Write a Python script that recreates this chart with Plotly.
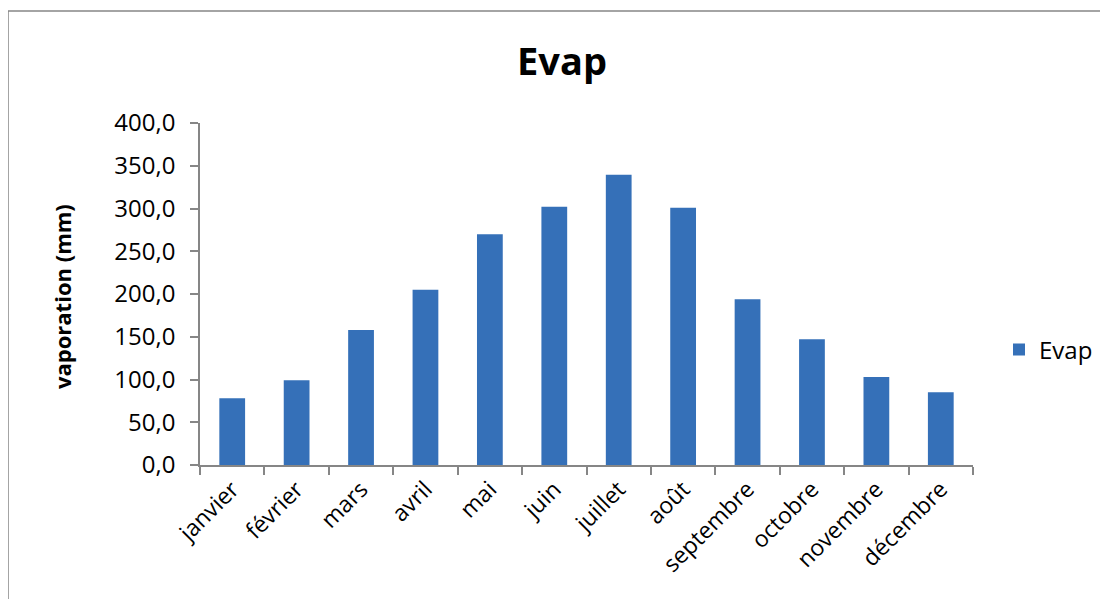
import plotly.graph_objects as go

months = ["janvier", "février", "mars", "avril", "mai", "juin", "juillet",
          "août", "septembre", "octobre", "novembre", "décembre"]
evap = [78.0, 99.0, 158.0, 205.0, 270.0, 302.0, 339.5, 301.0, 194.0, 147.0, 103.0, 85.0]
y_ticks = [0, 50, 100, 150, 200, 250, 300, 350, 400]
y_tick_labels = ["0,0", "50,0", "100,0", "150,0", "200,0", "250,0", "300,0", "350,0", "400,0"]

# page body has an 8px margin: work in reference pixel coords, shift by OFF
OFF = 8
W, H = 1108 - OFF, 599 - OFF
L, T = 200 - OFF, 123 - OFF
pw, ph = 773, 342
R = W - L - pw
B = H - T - ph

FONT = "Open Sans"
AXIS_COL = "#868686"


def px(xr):
    return (xr - 200) / pw


def py(yr):
    return (465 - yr) / ph


fig = go.Figure()
fig.add_trace(go.Bar(
    x=months, y=evap, name="Evap",
    marker=dict(color="#3570B8", line=dict(width=0)),
))

fig.update_layout(
    width=W, height=H,
    margin=dict(l=L, r=R, t=T, b=B, autoexpand=False),
    paper_bgcolor="white", plot_bgcolor="white",
    bargap=0.6,
    showlegend=True,
    font=dict(family=FONT, color="black"),
    title=dict(text="<b>Evap</b>", x=(562 - OFF) / W, xref="container", xanchor="center",
               y=1 - (62 - OFF) / H, yref="container", yanchor="middle",
               font=dict(family=FONT, size=38, color="black")),
    legend=dict(x=px(999), y=py(350), xanchor="left", yanchor="middle",
                font=dict(family=FONT, size=24, color="black"),
                bgcolor="rgba(0,0,0,0)", itemwidth=30),
    xaxis=dict(
        showline=True, linecolor=AXIS_COL, linewidth=1.5,
        ticks="outside", ticklen=8, tickcolor=AXIS_COL, tickwidth=1.5,
        tickson="boundaries", tickangle=-45,
        tickfont=dict(family=FONT, size=23, color="black"),
        showgrid=False, zeroline=False,
    ),
    yaxis=dict(
        range=[0, 400], tickvals=y_ticks, ticktext=y_tick_labels,
        showline=True, linecolor=AXIS_COL, linewidth=1.5,
        ticks="outside", ticklen=8, tickcolor=AXIS_COL, tickwidth=1.5,
        ticklabelstandoff=10,
        tickfont=dict(family=FONT, size=24, color="black"),
        showgrid=False, zeroline=False,
    ),
)

fig.add_annotation(
    text="<b>vaporation (mm)</b>", textangle=-90,
    xref="paper", yref="paper",
    x=px(62), y=py(297),
    xanchor="center", yanchor="middle", showarrow=False,
    font=dict(family=FONT, size=22, color="black"),
)

# chart area border
fig.add_shape(
    type="rect", xref="paper", yref="paper",
    x0=px(8), x1=px(1101),
    y0=py(640), y1=py(11),
    line=dict(color=AXIS_COL, width=1.5), fillcolor="rgba(0,0,0,0)", layer="below",
)

fig.write_html("out.html")
